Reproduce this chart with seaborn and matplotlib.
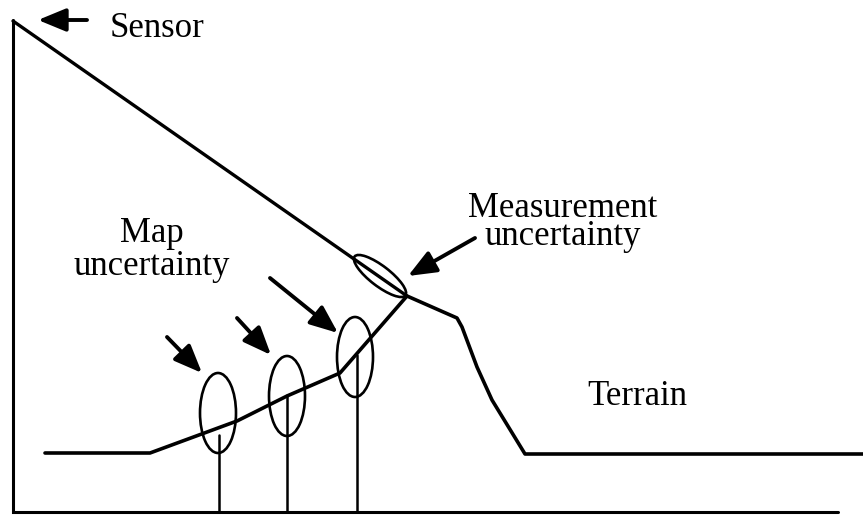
import numpy as np
import pandas as pd
import seaborn as sns
import matplotlib.pyplot as plt
from matplotlib.patches import Ellipse

# diagram coordinates (pixel-like units, y grows downward)
terrain_x = [45, 150, 237, 287, 340, 407, 457, 462, 477, 492, 525, 863]
terrain_y = [453, 453, 421, 396, 373, 296, 318, 327, 367, 400, 454, 454]

sensor_x = [13, 407]
sensor_y = [21, 296]

axis_x = [13, 13, 838]
axis_y = [20, 512, 512]

map_ell_x = [218, 287, 355]
map_ell_y = [413, 396, 357]

stem_x = [219, 287, 357]
stem_top = [435, 395, 355]
ground_y = 512

map_arrow_tail = [(167, 337), (237, 318), (270, 278)]
map_arrow_tip = [(202, 373), (271, 355), (338, 333)]

meas_center = (380, 276)

sns.set_style('white')
plt.rcParams['font.family'] = ['Liberation Serif', 'DejaVu Serif']
plt.rcParams['text.color'] = 'black'

fig = plt.figure(figsize=(8.63, 5.16), dpi=100)
ax = fig.add_axes([0, 0, 1, 1])

df_terrain = pd.DataFrame({'x': terrain_x, 'y': terrain_y})
sns.lineplot(data=df_terrain, x='x', y='y', ax=ax, color='black', lw=2.6, sort=False, estimator=None)
sns.lineplot(x=sensor_x, y=sensor_y, ax=ax, color='black', lw=2.4, sort=False, estimator=None)
ax.plot(axis_x, axis_y, color='black', lw=2.2, solid_joinstyle='miter')

# map uncertainty ellipses + stems
for ex, ey in zip(map_ell_x, map_ell_y):
    ax.add_patch(Ellipse((ex, ey), 36, 80, fill=False, ec='black', lw=1.9))
for sx, st in zip(stem_x, stem_top):
    ax.plot([sx, sx], [st, ground_y], color='black', lw=1.8)

# measurement ellipse along sensor ray
ax.add_patch(Ellipse(meas_center, 64, 20, angle=37.5, fill=False, ec='black', lw=1.9))

arrow_style = dict(arrowstyle='-|>,head_length=0.85,head_width=0.35', color='black',
                   lw=2.8, shrinkA=0, shrinkB=0, mutation_scale=20)
for tail, tip in zip(map_arrow_tail, map_arrow_tip):
    ax.annotate('', xy=tip, xytext=tail, arrowprops=arrow_style)
ax.annotate('', xy=(408, 276), xytext=(475, 238), arrowprops=arrow_style)
ax.annotate('', xy=(38, 20), xytext=(87, 20), arrowprops=arrow_style)

fs = 25
ax.text(110, 36.7, 'Sensor', fontsize=fs, va='baseline', ha='left')
# multi-line texts: y is the baseline of the last line
ax.text(152, 275, 'Map\nuncertainty', fontsize=fs, va='baseline', ha='center',
        multialignment='center', linespacing=0.98)
ax.text(563, 245, 'Measurement\nuncertainty', fontsize=fs, va='baseline', ha='center',
        multialignment='center', linespacing=0.81)
ax.text(637, 405, 'Terrain', fontsize=fs, va='baseline', ha='center')

ax.set_xlim(0, 863)
ax.set_ylim(516, 0)
ax.axis('off')

plt.savefig('out.png', dpi=100)
